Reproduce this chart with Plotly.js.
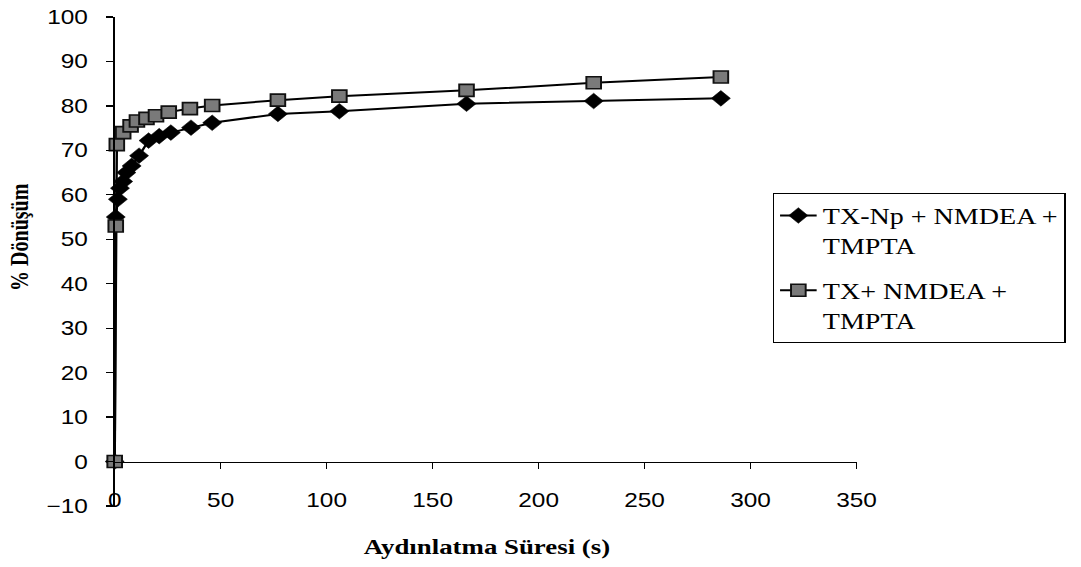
<!DOCTYPE html>
<html>
<head>
<meta charset="utf-8">
<script src="https://cdn.plot.ly/plotly-3.0.1.min.js"></script>
<style>
  html, body { margin: 0; padding: 0; background: #ffffff; overflow: hidden; }
  #chart { width: 886px; height: 567px; transform: scaleX(1.2201); transform-origin: 0 0; }
</style>
</head>
<body>
<div id="chart"></div>
<script>
// ---- data ----
var seriesNames = ["TX-Np + NMDEA +<br>TMPTA", "TX+ NMDEA +<br>TMPTA"];

var timeNp = [0, 0.5, 1.5, 2.5, 4, 5.5, 8, 11.5, 16, 21, 26.5, 36, 46, 77, 106, 166, 226, 286];
var convNp = [0, 55, 59, 61.5, 63, 65, 66.5, 68.8, 72.2, 73.2, 74, 75.1, 76.2, 78.2, 78.8, 80.5, 81.1, 81.7];

var timeTx = [0, 0.5, 1, 4, 7.5, 10.5, 15, 19.5, 25.5, 35.5, 46, 77, 106, 166, 226, 286];
var convTx = [0, 53, 71.3, 74, 75.5, 76.6, 77.2, 77.8, 78.6, 79.4, 80.1, 81.3, 82.2, 83.5, 85.2, 86.5];

var xTicks = [0, 50, 100, 150, 200, 250, 300, 350];
var yTicks = [-10, 0, 10, 20, 30, 40, 50, 60, 70, 80, 90, 100];

var xTitle = "Aydınlatma Süresi (s)";
var yTitle = "% Dönüşüm";

// ---- chart ----
var traces = [
  {
    x: timeNp, y: convNp, name: seriesNames[0], legendgroup: "a",
    type: "scatter", mode: "lines+markers", cliponaxis: false,
    xaxis: "x", yaxis: "y",
    line: { color: "#000000", width: 2 },
    marker: { symbol: "diamond", size: 12, color: "#000000", line: { color: "#000000", width: 0.5 } }
  },
  {
    x: timeTx, y: convTx, name: seriesNames[1], legendgroup: "b",
    type: "scatter", mode: "lines+markers", cliponaxis: false,
    xaxis: "x", yaxis: "y",
    line: { color: "#000000", width: 2 },
    marker: { symbol: "square", size: 12, color: "#7a7a7a", line: { color: "#111111", width: 1.6 } }
  },
  {
    x: [], y: [], xaxis: "x2", yaxis: "y", type: "scatter", mode: "markers",
    showlegend: false, hoverinfo: "skip"
  }
];

var layout = {
  width: 886, height: 567,
  margin: { l: 93.85, r: 176.6, t: 17, b: 61 },
  paper_bgcolor: "#ffffff", plot_bgcolor: "#ffffff",
  showlegend: true,
  font: { family: "Arial, 'Liberation Sans', sans-serif", color: "#000000" },
  xaxis: {
    range: [0, 350], tickvals: xTicks, showticklabels: false,
    anchor: "free", position: 10 / 110,
    showline: true, linecolor: "#000000", linewidth: 1.5,
    ticks: "outside", ticklen: 6, tickwidth: 1.2, tickcolor: "#000000",
    showgrid: false, zeroline: false, fixedrange: true
  },
  xaxis2: {
    matches: "x", overlaying: "x", range: [0, 350], tickvals: xTicks,
    anchor: "free", position: 0.041,
    showline: false, ticks: "", showgrid: false, zeroline: false,
    showticklabels: true,
    tickfont: { family: "Arial, 'Liberation Sans', sans-serif", size: 20, color: "#000000" }
  },
  yaxis: {
    range: [-10, 100], tickvals: yTicks, domain: [0, 1],
    showline: true, linecolor: "#000000", linewidth: 1.5,
    ticks: "outside", ticklen: 5.5, tickwidth: 1.2, tickcolor: "#000000",
    ticklabelstandoff: 11,
    showgrid: false, zeroline: false, fixedrange: true,
    tickfont: { family: "Arial, 'Liberation Sans', sans-serif", size: 20, color: "#000000" }
  },
  legend: {
    x: 1.2818, xanchor: "right", y: 0.640, yanchor: "top",
    bgcolor: "#ffffff", bordercolor: "#000000", borderwidth: 1,
    font: { family: "'Liberation Serif', 'Times New Roman', serif", size: 23, color: "#000000" },
    valign: "top", traceorder: "grouped", tracegroupgap: 12
  },
  annotations: [
    {
      text: "<b>" + xTitle + "</b>", xref: "paper", yref: "paper",
      x: 0.5015, y: -0.0838, xanchor: "center", yanchor: "middle", showarrow: false,
      font: { family: "'Liberation Serif', 'Times New Roman', serif", size: 22, color: "#000000" }
    },
    {
      text: "<b>" + yTitle + "</b>", xref: "paper", yref: "paper",
      x: -0.1285, y: 0.55, xanchor: "center", yanchor: "middle", textangle: -90, showarrow: false,
      font: { family: "'Liberation Serif', 'Times New Roman', serif", size: 20, color: "#000000" }
    }
  ]
};

Plotly.newPlot("chart", traces, layout, { displayModeBar: false, staticPlot: true });
</script>
</body>
</html>
